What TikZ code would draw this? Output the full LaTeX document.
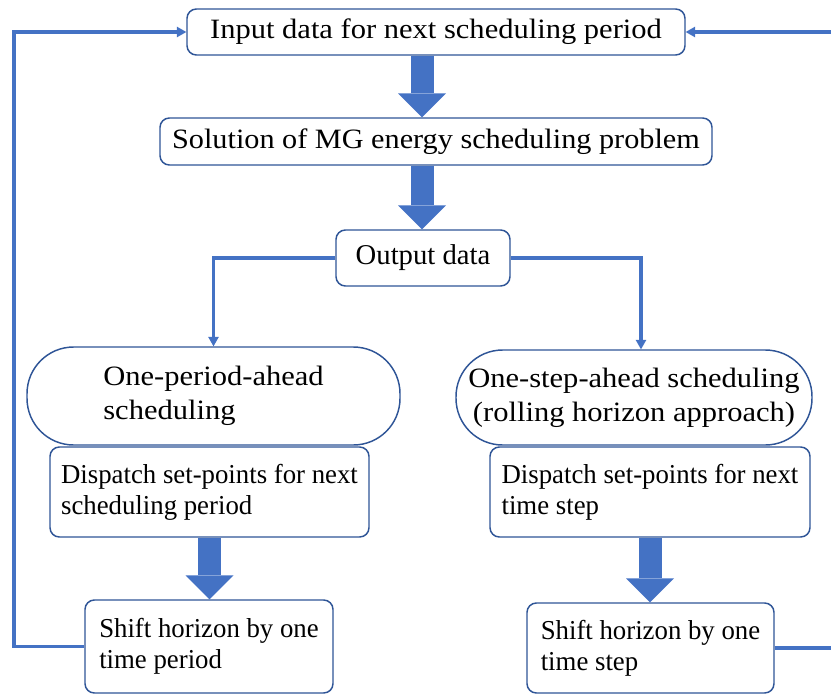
\documentclass[tikz,border=0pt]{standalone}
\usepackage{fontspec}
\setmainfont{Liberation Serif}
\newfontfamily\wideserif{Liberation Serif}[FakeStretch=1.09]
\newfontfamily\widerserif{Liberation Serif}[FakeStretch=1.08]
\newfontfamily\slimserif{Liberation Serif}[FakeStretch=0.98]
\usetikzlibrary{arrows.meta}
\definecolor{flowblue}{HTML}{4472C4}
\definecolor{edgeblue}{HTML}{2F5597}
\begin{document}
\begin{tikzpicture}[x=0.75pt,y=-0.75pt,
  box/.style={draw=edgeblue, line width=1.1pt, rounded corners=7pt, fill=white,
              inner sep=0pt, align=center},
  stadium/.style={box, rounded corners=35pt},
  big/.style={font=\wideserif\fontsize{21pt}{25.5pt}\selectfont},
  small/.style={font=\slimserif\fontsize{20.5pt}{23.5pt}\selectfont, align=left},
  conn/.style={draw=flowblue, line width=2.3pt,
               -{Triangle[width=8pt,length=7pt,line width=0pt]}},
  blockarrow/.style={draw=flowblue, line width=17.25pt,
               -{Triangle[width=36pt,length=18pt,line width=0pt]}}]

\clip (0,0) rectangle (831,696);

% main chain
\node[box,big,minimum width=373.5pt,minimum height=34.5pt] (in) at (436,32)
  {Input data for next scheduling period};
\node[box,font=\widerserif\fontsize{21pt}{25.5pt}\selectfont,
      minimum width=414pt,minimum height=35.25pt] (sol) at (436,141.5)
  {Solution of MG energy scheduling problem};
\node[box,font=\fontsize{21.5pt}{25.5pt}\selectfont,
      minimum width=130.5pt,minimum height=42pt] (out) at (423,258)
  {Output data};

% two scheduling modes
\node[stadium,big,align=left,minimum width=279.75pt,minimum height=73.5pt] (lst) at (213.5,396)
  {One-period-ahead\\scheduling};
\node[stadium,big,minimum width=267pt,minimum height=71.25pt] (rst) at (634,397.5)
  {One-step-ahead scheduling\\(rolling horizon approach)};

\node[box,small,minimum width=239.25pt,minimum height=67.5pt] (ldp) at (209.5,492)
  {Dispatch set-points for next\\scheduling period};
\node[box,small,minimum width=240pt,minimum height=67.5pt] (rdp) at (650,492)
  {Dispatch set-points for next\\time step};

\node[box,small,minimum width=186pt,minimum height=69.75pt] (lsh) at (209,646.5)
  {Shift horizon by one\\time period};
\node[box,small,minimum width=185.25pt,minimum height=67.5pt] (rsh) at (650.5,648)
  {Shift horizon by one\\time step};

% block arrows
\coordinate (ax) at (422,0);
\draw[blockarrow] (in.south -| ax) -- (sol.north -| ax);
\draw[blockarrow] (sol.south -| ax) -- (out.north -| ax);
\draw[blockarrow] (ldp.south) -- (ldp.south |- lsh.north);
\draw[blockarrow] (rdp.south) -- (rdp.south |- rsh.north);

% branching connectors
\draw[conn] (out.west) -| (lst.north);
\draw[conn] (out.east) -| ([xshift=5.25pt]rst.north);

% feedback loops
\coordinate (fbl) at (14,0);
\coordinate (fbr) at (845,0);
\draw[conn] (lsh.west) -| (fbl |- in.west) -- (in.west);
\draw[conn] (rsh.east) -| (fbr |- in.east) -- (in.east);
\end{tikzpicture}
\end{document}
